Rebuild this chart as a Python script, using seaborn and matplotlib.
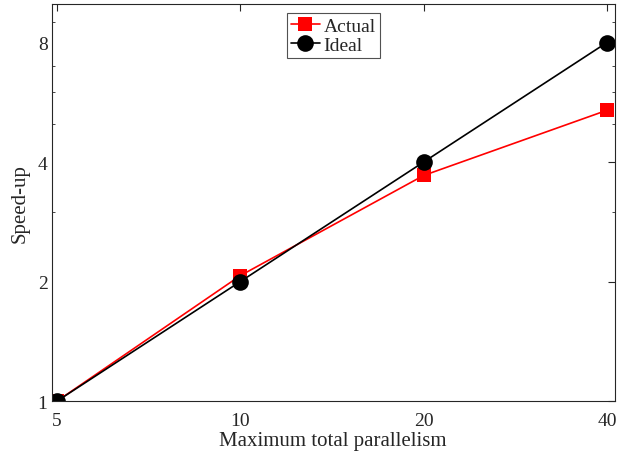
import pandas as pd
import seaborn as sns
import matplotlib.pyplot as plt
from matplotlib.ticker import FixedLocator, NullLocator, NullFormatter

# values
parallelism = [5, 10, 20, 40]
actual = [1.0, 2.07, 3.7, 5.4]
ideal = [1, 2, 4, 8]
y_minor = [3, 5, 6, 7, 9, 10]

df = pd.DataFrame({
    'x': parallelism * 2,
    'y': actual + ideal,
    'series': ['Actual'] * 4 + ['Ideal'] * 4,
})

sns.set_style('white')
plt.rcParams['font.family'] = ['Liberation Serif', 'DejaVu Serif']

fig = plt.figure(figsize=(6.39, 4.6), dpi=100)
ax = fig.add_axes([0.081, 0.126, 0.881, 0.863])

sns.lineplot(data=df, x='x', y='y', hue='series', style='series',
             palette={'Actual': '#ff0000', 'Ideal': '#000000'},
             markers={'Actual': 's', 'Ideal': 'o'}, dashes=False,
             markersize=10, linewidth=1.2, markeredgewidth=0, ax=ax)
# circles are a bit bigger than the squares
ax.lines[1].set_markersize(12)

ax.set_xscale('log', base=2)
ax.set_yscale('log', base=2)
ax.set_xlim(4.9, 41.2)
ax.set_ylim(1, 10)
ax.xaxis.set_major_locator(FixedLocator(parallelism))
ax.yaxis.set_major_locator(FixedLocator(ideal))
ax.xaxis.set_minor_locator(NullLocator())
ax.yaxis.set_minor_locator(FixedLocator(y_minor))
ax.yaxis.set_minor_formatter(NullFormatter())
ax.set_xticklabels([str(v) for v in parallelism])
ax.set_yticklabels([str(v) for v in ideal])

ax.tick_params(which='major', direction='in', length=5, width=0.8, colors='#262626',
               labelsize=14, top=True, right=True, pad=3)
ax.tick_params(axis='x', which='major', pad=8)
ax.tick_params(which='minor', direction='in', length=2.5, width=0.6, colors='#262626',
               left=True, right=True)
for s in ax.spines.values():
    s.set_color('#262626')
    s.set_linewidth(0.8)

ax.set_xlabel('Maximum total parallelism', fontsize=15, color='#262626', labelpad=1)
ax.set_ylabel('Speed-up', fontsize=15, color='#262626', labelpad=6)

leg = ax.legend(loc='upper center', bbox_to_anchor=(0.5, 0.977), fontsize=14,
                frameon=True, fancybox=False, edgecolor='#262626',
                handlelength=1.5, handletextpad=0.2, borderpad=0.2,
                labelspacing=0.1, borderaxespad=0)
leg.get_frame().set_linewidth(0.8)
leg.legend_handles[1].set_markersize(12)

fig.savefig('out.png', dpi=100)
